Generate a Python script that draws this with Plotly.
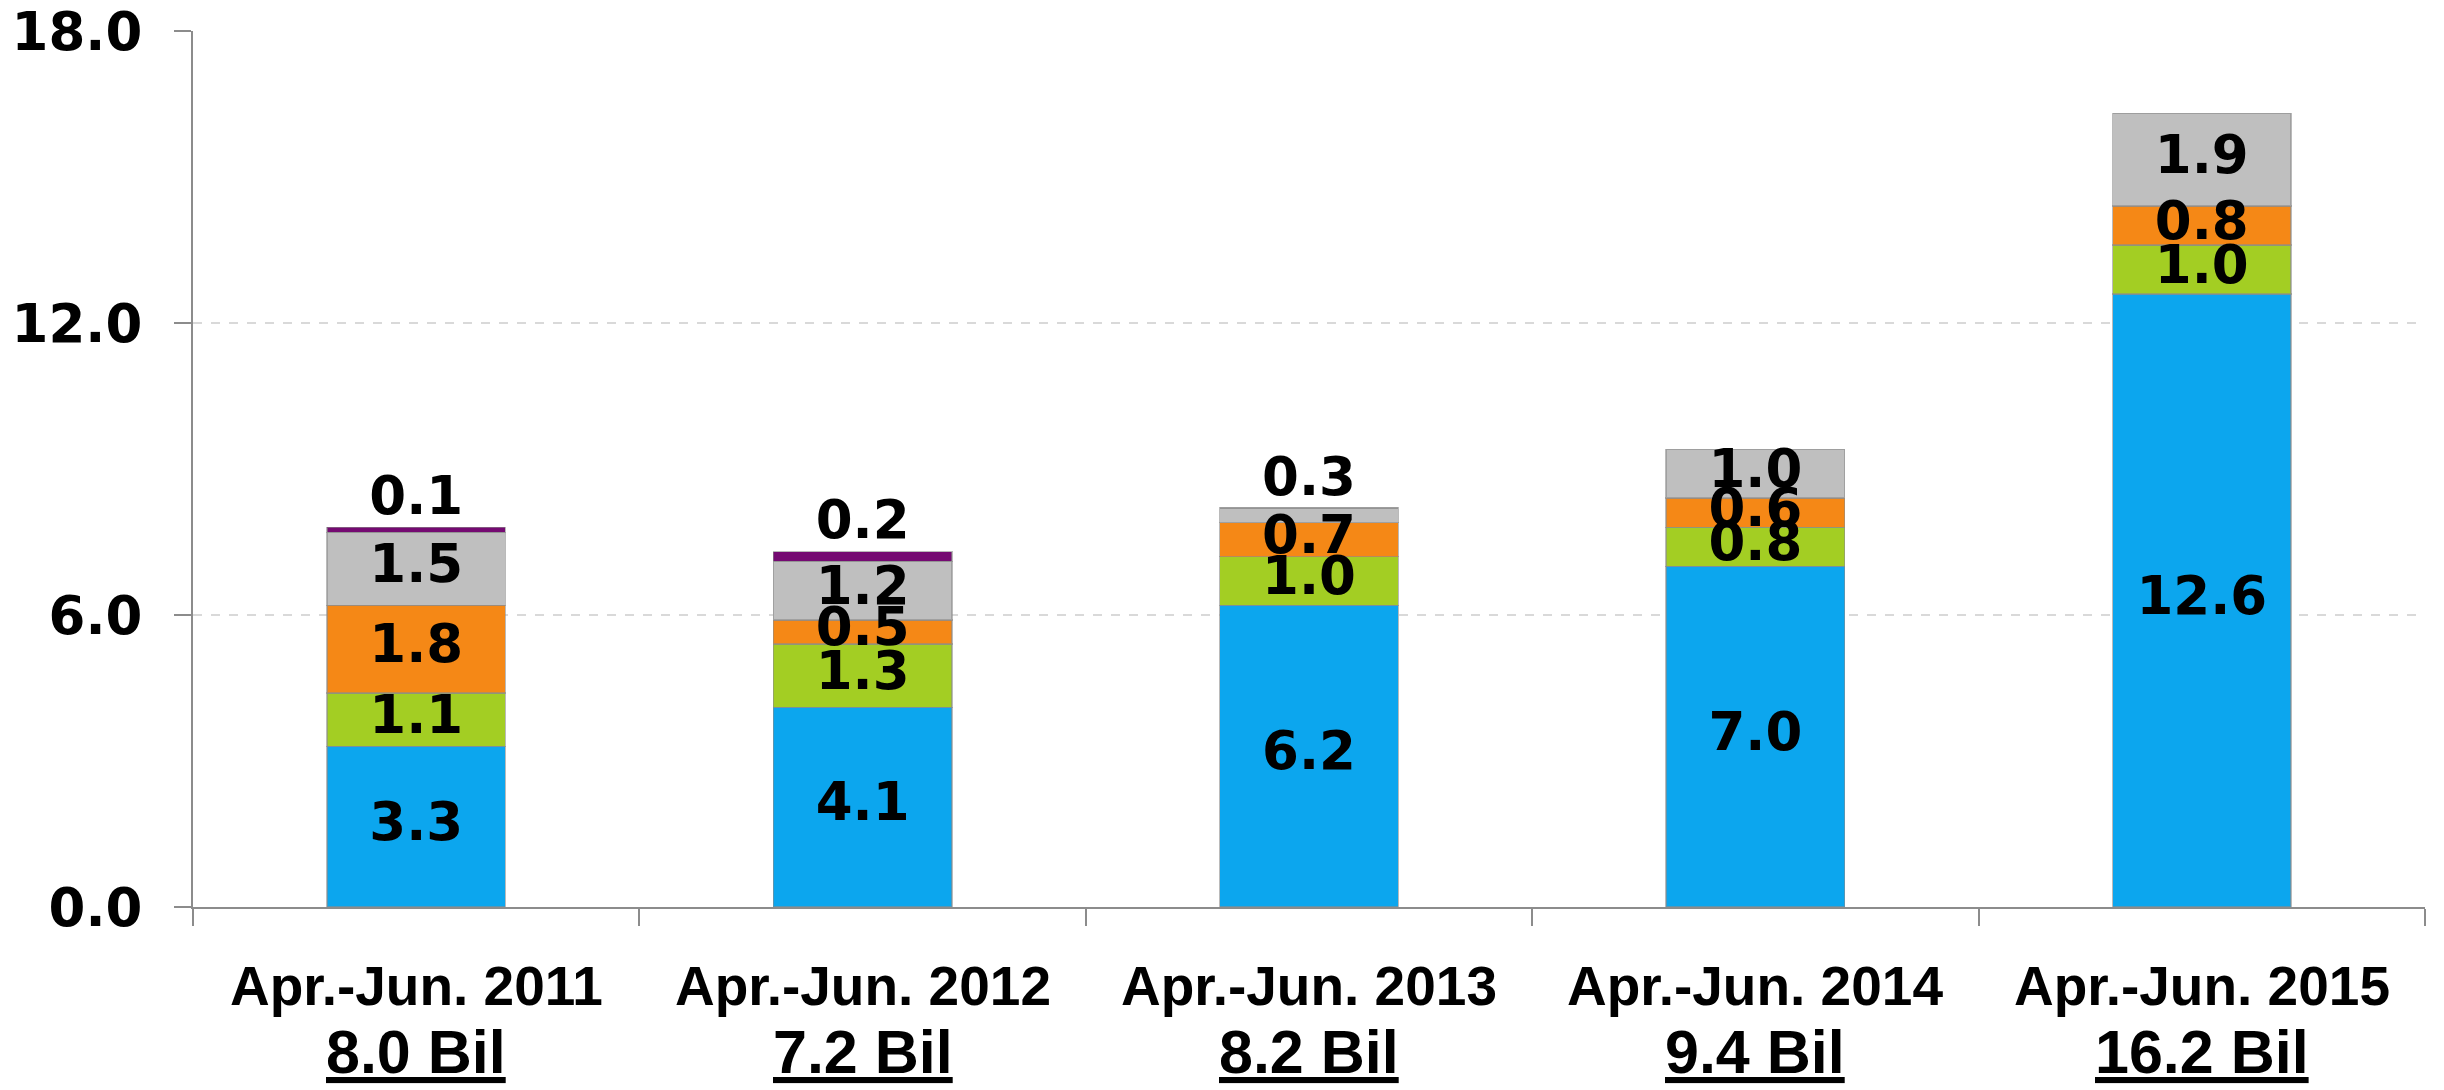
import plotly.graph_objects as go
import numpy as np

categories = ["Apr.-Jun. 2011", "Apr.-Jun. 2012", "Apr.-Jun. 2013", "Apr.-Jun. 2014", "Apr.-Jun. 2015"]
totals = ["8.0 Bil", "7.2 Bil", "8.2 Bil", "9.4 Bil", "16.2 Bil"]
blue = [3.3, 4.1, 6.2, 7.0, 12.6]
green = [1.1, 1.3, 1.0, 0.8, 1.0]
orange = [1.8, 0.5, 0.7, 0.6, 0.8]
gray = [1.5, 1.2, 0.3, 1.0, 1.9]
purple = [0.1, 0.2, 0.0, 0.0, 0.0]
y_ticks = [0, 6, 12, 18]

series = [blue, green, orange, gray, purple]
colors = ["#0CA6EE", "#A3CE23", "#F58816", "#BFBFBF", "#750A72"]

fig = go.Figure()
for vals, col in zip(series, colors):
    fig.add_trace(go.Bar(
        x=categories, y=vals, marker=dict(color=col, line=dict(color="rgba(140,140,140,0.6)", width=1.5)),
        hoverinfo="skip", showlegend=False))

# value labels
arr = np.array(series)
cum = np.cumsum(arr, axis=0)
label_font = dict(family="DejaVu Sans, Verdana, sans-serif", size=53, color="black")
mid_x, mid_y, mid_t = [], [], []
top_x, top_y, top_t = [], [], []
for s in range(arr.shape[0]):
    for c in range(arr.shape[1]):
        v = arr[s, c]
        if v <= 0:
            continue
        is_top = all(arr[k, c] == 0 for k in range(s + 1, arr.shape[0]))
        txt = f"<b>{v:.1f}</b>"
        if is_top and v < 0.5:
            top_x.append(categories[c]); top_y.append(cum[s, c]); top_t.append(txt)
        else:
            mid_x.append(categories[c]); mid_y.append(cum[s, c] - v / 2); mid_t.append(txt)

fig.add_trace(go.Scatter(x=mid_x, y=mid_y, text=mid_t, mode="text", textposition="middle center",
                         textfont=label_font, hoverinfo="skip", showlegend=False, cliponaxis=False))
fig.add_trace(go.Scatter(x=top_x, y=top_y, text=top_t, mode="text", textposition="top center",
                         textfont=label_font, hoverinfo="skip", showlegend=False, cliponaxis=False))

# category labels and totals
for cat, tot in zip(categories, totals):
    fig.add_annotation(x=cat, xref="x", y=-0.09, yref="paper", text=f"<b>{cat}</b>", showarrow=False,
                       yanchor="middle", font=dict(family="Liberation Sans, Arial, sans-serif", size=55, color="black"))
    fig.add_annotation(x=cat, xref="x", y=-0.166, yref="paper",
                       text=f"<b><span style='text-decoration:underline'>{tot}</span></b>", showarrow=False,
                       yanchor="middle", font=dict(family="Liberation Sans, Arial, sans-serif", size=61, color="black"))

fig.update_layout(
    barmode="stack", bargap=0.6,
    width=2444, height=1090,
    margin=dict(l=193, r=19, t=31, b=183),
    paper_bgcolor="white", plot_bgcolor="white",
    xaxis=dict(type="category", showticklabels=False, ticks="outside", tickson="boundaries", ticklen=17,
               tickcolor="#8C8C8C", tickwidth=2, showline=True, linecolor="#8C8C8C", linewidth=2,
               showgrid=False, range=[-0.5, 4.5], automargin=False),
    yaxis=dict(range=[0, 18], tickvals=y_ticks, ticktext=[f"<b>{v:.1f}</b>" for v in y_ticks],
               ticks="outside", ticklen=17, tickcolor="#8C8C8C", tickwidth=2,
               showline=True, linecolor="#8C8C8C", linewidth=2,
               showgrid=True, gridcolor="#D9D9D9", griddash="dash", gridwidth=1.5,
               zeroline=False, ticklabelstandoff=21, automargin=False,
               tickfont=dict(family="DejaVu Sans, Verdana, sans-serif", size=53, color="black")),
)

fig.write_html("out.html", config={"displayModeBar": False},
               post_script="document.body.style.margin='0';")
